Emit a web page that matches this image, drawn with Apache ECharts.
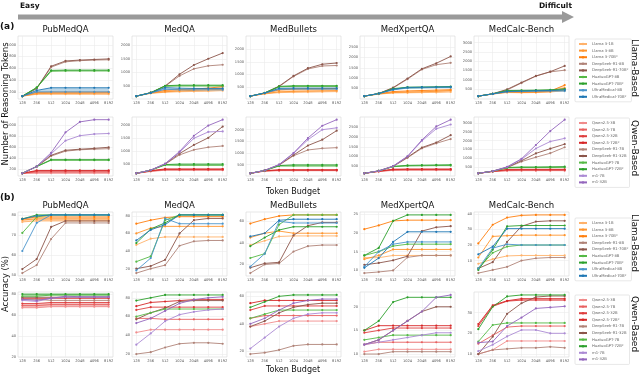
<!DOCTYPE html>
<html>
<head>
<meta charset="utf-8">
<script src="https://cdn.jsdelivr.net/npm/echarts@6/dist/echarts.min.js"></script>
<style>
html, body { margin: 0; padding: 0; background: #fff; }
#main { width: 640px; height: 375px; }
</style>
</head>
<body>
<div id="main"></div>
<script>
// x axis (category positions 0..6)
const budgets = ['128', '256', '512', '1024', '2048', '4096', '8192'];
const datasets = ['PubMedQA', 'MedQA', 'MedBullets', 'MedXpertQA', 'MedCalc-Bench'];

const llamaModels = ['Llama 3-1B', 'Llama 3-8B', 'Llama 3-70B*', 'DeepSeek-R1-8B', 'DeepSeek-R1-70B*',
  'HuatuoGPT-8B', 'HuatuoGPT-70B*', 'UltraMedical-8B', 'UltraMedical-70B*'];
const qwenModels = ['Qwen2.5-3B', 'Qwen2.5-7B', 'Qwen2.5-32B', 'Qwen2.5-72B*', 'DeepSeek-R1-7B',
  'DeepSeek-R1-32B', 'HuatuoGPT-7B', 'HuatuoGPT-72B*', 'm1-7B', 'm1-32B'];
const llamaColors = ['#ffb26b', '#ff952e', '#ff7f0e', '#b08378', '#8c564b', '#55b946', '#2ca02c', '#4b95cc', '#1f77b4'];
const qwenColors = ['#f08c8c', '#e86060', '#de3f3f', '#d62728', '#b08378', '#8c564b', '#55b946', '#2ca02c', '#ab8ad4', '#9467bd'];
// model families that get a shaded band where their lines run close together
const llamaBands = [[0, 1, 2], [5, 6], [7, 8]];
const qwenBands = [[0, 1, 2, 3], [6, 7]];

// ---- (a) number of reasoning tokens, Llama-based ----
const tokLlamaPubMedQA = [
  [128, 160, 160, 160, 160, 160, 160],
  [128, 170, 175, 175, 175, 178, 180],
  [128, 190, 195, 195, 195, 195, 195],
  [128, 255, 620, 710, 730, 740, 745],
  [128, 260, 635, 725, 740, 750, 760],
  [128, 270, 550, 555, 555, 555, 555],
  [128, 275, 565, 570, 570, 570, 570],
  [128, 200, 200, 200, 200, 200, 200],
  [128, 225, 270, 270, 270, 270, 270]];
const tokLlamaMedQA = [
  [128, 230, 270, 290, 300, 310, 330],
  [128, 240, 290, 320, 340, 360, 380],
  [128, 250, 340, 370, 390, 420, 480],
  [128, 250, 490, 870, 1130, 1240, 1280],
  [128, 255, 500, 930, 1270, 1500, 1710],
  [128, 250, 490, 500, 500, 500, 500],
  [128, 255, 510, 530, 530, 530, 530],
  [128, 245, 380, 360, 360, 360, 360],
  [128, 250, 440, 420, 410, 410, 410]];
const tokLlamaMedBullets = [
  [128, 220, 270, 280, 290, 300, 310],
  [128, 230, 300, 320, 330, 340, 350],
  [128, 245, 380, 410, 420, 420, 430],
  [128, 250, 510, 920, 1220, 1340, 1360],
  [128, 255, 530, 940, 1250, 1410, 1460],
  [128, 255, 500, 520, 520, 520, 520],
  [128, 260, 520, 545, 545, 545, 545],
  [128, 250, 400, 410, 410, 410, 410],
  [128, 255, 440, 450, 450, 450, 450]];
const tokLlamaMedXpertQA = [
  [128, 225, 280, 290, 300, 310, 330],
  [128, 235, 300, 320, 340, 360, 400],
  [128, 245, 350, 380, 400, 420, 440],
  [128, 250, 520, 950, 1420, 1650, 1740],
  [128, 255, 540, 980, 1450, 1720, 2050],
  [128, 250, 470, 530, 540, 550, 560],
  [128, 255, 490, 560, 570, 580, 590],
  [128, 250, 430, 520, 530, 540, 540],
  [128, 255, 460, 550, 560, 570, 580]];
const tokLlamaMedCalc = [
  [128, 240, 320, 310, 320, 350, 420],
  [128, 245, 340, 330, 340, 370, 560],
  [128, 250, 360, 350, 360, 400, 720],
  [128, 250, 460, 830, 1200, 1430, 1520],
  [128, 255, 490, 860, 1210, 1440, 1750],
  [128, 250, 410, 420, 430, 440, 470],
  [128, 255, 430, 440, 450, 470, 520],
  [128, 245, 360, 380, 390, 400, 400],
  [128, 250, 380, 400, 420, 430, 460]];

// ---- (a) number of reasoning tokens, Qwen-based ----
const tokQwenPubMedQA = [
  [128, 130, 130, 130, 130, 130, 130],
  [128, 150, 150, 150, 150, 150, 150],
  [128, 170, 170, 170, 170, 170, 170],
  [128, 180, 180, 180, 180, 180, 180],
  [128, 250, 440, 530, 555, 565, 575],
  [128, 252, 455, 545, 565, 580, 600],
  [128, 250, 365, 365, 365, 365, 365],
  [128, 252, 375, 375, 375, 375, 375],
  [128, 250, 480, 720, 810, 840, 850],
  [128, 255, 500, 870, 1060, 1100, 1100]];
const tokQwenMedQA = [
  [128, 200, 250, 250, 250, 250, 250],
  [128, 215, 265, 265, 265, 265, 265],
  [128, 225, 280, 280, 280, 280, 280],
  [128, 230, 300, 300, 300, 300, 300],
  [128, 250, 480, 850, 1050, 1150, 1200],
  [128, 250, 490, 900, 1240, 1520, 1960],
  [128, 250, 450, 440, 440, 440, 440],
  [128, 252, 470, 490, 490, 490, 490],
  [128, 250, 500, 950, 1500, 1750, 1770],
  [128, 255, 505, 980, 1600, 2000, 2230]];
const tokQwenMedBullets = [
  [128, 220, 240, 240, 240, 240, 240],
  [128, 230, 255, 255, 255, 255, 255],
  [128, 235, 265, 265, 265, 265, 265],
  [128, 240, 280, 280, 280, 280, 280],
  [128, 250, 480, 880, 1130, 1200, 1230],
  [128, 250, 490, 910, 1320, 1570, 1960],
  [128, 250, 440, 440, 440, 440, 440],
  [128, 252, 460, 490, 490, 490, 490],
  [128, 250, 500, 980, 1570, 2000, 2080],
  [128, 255, 505, 1000, 1640, 2170, 2430]];
const tokQwenMedXpertQA = [
  [128, 220, 280, 290, 290, 290, 290],
  [128, 230, 300, 310, 310, 310, 310],
  [128, 235, 320, 330, 330, 330, 330],
  [128, 240, 340, 350, 350, 350, 350],
  [128, 250, 480, 930, 1420, 1680, 1900],
  [128, 250, 490, 960, 1460, 1720, 2100],
  [128, 250, 470, 510, 520, 530, 530],
  [128, 252, 490, 540, 550, 560, 570],
  [128, 250, 490, 1000, 1800, 2430, 2650],
  [128, 255, 500, 1010, 1850, 2550, 2900]];
const tokQwenMedCalc = [
  [128, 230, 270, 280, 280, 280, 280],
  [128, 235, 290, 300, 300, 300, 300],
  [128, 240, 320, 330, 330, 330, 330],
  [128, 245, 350, 360, 360, 360, 360],
  [128, 250, 450, 800, 1050, 1280, 1620],
  [128, 250, 470, 850, 1270, 1540, 1800],
  [128, 250, 440, 460, 460, 460, 470],
  [128, 252, 460, 490, 490, 500, 510],
  [128, 250, 480, 930, 1550, 1950, 2130],
  [128, 255, 500, 960, 1750, 2550, 3200]];

// ---- (b) accuracy (%), Llama-based ----
const accLlamaPubMedQA = [
  [76.5, 77, 77, 77, 77, 77, 77],
  [77.5, 78, 78, 78, 78, 78, 78],
  [78, 79, 79, 79, 79, 79, 79],
  [51, 55, 68, 76, 76, 76, 76],
  [53, 58, 74, 77, 77, 77, 77],
  [71, 79, 80, 80, 80, 80, 80],
  [78, 80, 80, 80, 80, 80, 80],
  [62, 76, 80, 80, 80, 80, 80],
  [78, 79.5, 80, 80, 80, 80, 80]];
const accLlamaMedQA = [
  [47, 54, 56, 56, 56, 56, 56],
  [60, 66, 68, 68, 68, 68, 68],
  [71, 75, 78, 79, 79, 79, 79],
  [15, 20, 24, 46, 51, 52, 52],
  [20, 23, 30, 60, 75, 77, 77],
  [28, 34, 75, 81, 81, 81, 81],
  [49, 65, 72, 81, 81, 81, 81],
  [18, 32, 77, 71, 71, 71, 71],
  [52, 64, 70, 81, 81, 81, 81]];
const accLlamaMedBullets = [
  [38, 42, 46, 46.5, 46.5, 46.5, 46.5],
  [45, 49, 51, 49, 49, 49, 49],
  [58, 62, 65, 66, 66, 66, 66],
  [12, 20, 21, 32, 37, 38, 38],
  [17, 21, 22, 47, 56, 59, 59],
  [26, 30, 57, 66, 66, 66, 66],
  [37, 45, 52, 55, 55, 55, 55],
  [18, 30, 60, 58.5, 58.5, 58.5, 58.5],
  [46, 49, 61, 62, 62, 62, 62]];
const accLlamaMedXpertQA = [
  [13.4, 13.4, 14, 14, 14, 14, 14],
  [13, 14, 15.6, 15.6, 15.6, 15.6, 15.6],
  [21, 22, 23.2, 23.4, 23.4, 23.4, 23.4],
  [9.3, 9.6, 10, 13.5, 14, 14, 14],
  [11.5, 12, 12.7, 13.8, 20.5, 21.5, 21.8],
  [14, 15, 16.5, 17, 17, 17, 17],
  [14, 16, 23.2, 24.8, 24.8, 24.8, 24.8],
  [11, 15, 17, 17.6, 17.6, 17.6, 17.6],
  [10.7, 13.3, 17.6, 20.3, 20.3, 20.3, 20.3]];
const accLlamaMedCalc = [
  [8, 11, 13, 13.3, 13.3, 13.3, 13.3],
  [12, 25.5, 26, 26.3, 26.3, 26.3, 26.3],
  [21, 33, 37.6, 39, 39.3, 39.3, 39.3],
  [2, 4, 6, 10, 11.5, 12, 12],
  [5, 9, 22, 32, 35, 35.5, 35.5],
  [5, 15, 19, 20, 20, 20, 20],
  [4, 17, 32, 32.5, 32.5, 32.5, 32.5],
  [5, 18, 20.5, 20, 20, 20, 20],
  [14, 19, 30.5, 30.5, 30.5, 30.5, 30.5]];

// ---- (b) accuracy (%), Qwen-based ----
const accQwenPubMedQA = [
  [67, 67, 68, 68, 68, 68, 68],
  [69, 69, 70, 70, 70, 70, 70],
  [71, 71, 72, 72, 72, 72, 72],
  [76, 76, 76, 76, 76, 76, 76],
  [75, 75, 74, 74, 74, 74, 74],
  [77, 77, 77, 77, 77, 77, 77],
  [78, 78, 79, 79, 79, 79, 79],
  [80, 80, 80, 80, 80, 80, 80],
  [74, 73, 76, 77, 77, 77, 77],
  [75, 74, 76, 78, 77.5, 77.5, 77.5]];
const accQwenMedQA = [
  [43, 46, 46, 46, 46, 46, 46],
  [58, 58, 57, 57, 57, 57, 57],
  [67, 70, 70, 70, 70, 70, 70],
  [71, 75, 76, 77, 78, 78, 78],
  [20, 22, 27, 31, 32, 32, 31],
  [57, 64, 69, 76, 77, 77, 77],
  [60, 64, 68, 68, 68, 68, 68],
  [77, 80, 83, 83, 83, 83, 83],
  [30, 42, 55, 62, 65, 67, 68],
  [53, 58, 66, 74, 78, 80, 81]];
const accQwenMedBullets = [
  [38, 40, 42, 42, 42, 42, 42],
  [44, 46, 46, 46, 46, 46, 46],
  [50, 53, 53, 53, 53, 53, 53],
  [55, 57, 57, 57, 57, 57, 57],
  [18, 19, 21, 24, 25, 25, 25],
  [38, 42, 48, 52, 54, 55, 55],
  [44, 47, 50, 50, 50, 50, 50],
  [52, 56, 60, 61, 61, 61, 61],
  [22, 30, 38, 44, 47, 48, 48],
  [40, 44, 50, 55, 57, 58, 58]];
const accQwenMedXpertQA = [
  [10.5, 11, 11, 11, 11, 11, 11],
  [12, 12.5, 12.5, 12.5, 12.5, 12.5, 12.5],
  [14.5, 15, 15.5, 15.5, 15.5, 15.5, 15.5],
  [15, 16, 16, 16, 16, 16, 16],
  [10, 10, 10.5, 10.5, 10.5, 10.5, 10.5],
  [12, 13, 15, 17, 19, 20, 20],
  [13, 13.5, 14, 14, 14, 14, 14],
  [15, 17, 21, 22, 22, 22, 22],
  [12, 12.5, 13, 13.5, 14, 14.5, 14.5],
  [12, 13, 15, 17, 19, 22, 22.5]];
const accQwenMedCalc = [
  [10, 12, 16.3, 16.3, 16.3, 16.3, 16.3],
  [15, 19, 23, 23.5, 23.5, 23.5, 23.5],
  [23.5, 33, 35.5, 36, 36, 36, 36],
  [24.5, 33.5, 35.7, 36.7, 36.7, 36.7, 36.7],
  [10, 12, 12.5, 13, 13, 13.5, 13],
  [10, 18.4, 29.4, 34.5, 37.5, 38, 38],
  [16, 24, 25, 25, 25, 25, 25],
  [22, 32.8, 37.8, 38.5, 38.5, 38.5, 38.5],
  [11.4, 14.5, 18.5, 21.6, 21.6, 20, 20],
  [15.5, 16, 23.5, 27.6, 32, 32.5, 33]];

// y tick labels per column
const tokTicks = [[200, 400, 600, 800, 1000], [500, 1000, 1500, 2000], [500, 1000, 1500, 2000],
  [500, 1000, 1500, 2000, 2500], [500, 1000, 1500, 2000, 2500, 3000]];
const accLlamaTicks = [[50, 60, 70, 80], [20, 40, 60, 80], [20, 40, 60], [10, 15, 20, 25], [10, 20, 30, 40]];
const accQwenTicks = [[20, 40, 60, 80], [20, 40, 60, 80], [20, 40, 60], [10, 15, 20, 25], [10, 20, 30, 40]];

const tokLlama = [tokLlamaPubMedQA, tokLlamaMedQA, tokLlamaMedBullets, tokLlamaMedXpertQA, tokLlamaMedCalc];
const tokQwen = [tokQwenPubMedQA, tokQwenMedQA, tokQwenMedBullets, tokQwenMedXpertQA, tokQwenMedCalc];
const accLlama = [accLlamaPubMedQA, accLlamaMedQA, accLlamaMedBullets, accLlamaMedXpertQA, accLlamaMedCalc];
const accQwen = [accQwenPubMedQA, accQwenMedQA, accQwenMedBullets, accQwenMedXpertQA, accQwenMedCalc];

const FONT = 'DejaVu Sans';
const gridLefts = [18, 132, 246, 360, 474];
const gridW = 95;
const rowTops = [36, 117, 212, 292];
const rowHeights = [63, 59, 64, 65];
const idx = budgets.map((b, i) => i);

// matplotlib-like autoscale: 5% margin around the data
function padRange(lists) {
  let lo = Infinity, hi = -Infinity;
  lists.forEach(l => l.forEach(s => s.forEach(v => { lo = Math.min(lo, v); hi = Math.max(hi, v); })));
  const m = (hi - lo) * 0.05;
  return [lo - m, hi + m];
}

// split a family into groups of lines that run close together
function closeGroups(data, fam, span) {
  const thr = span * 0.07;
  const mean = i => data[i].reduce((a, b) => a + b, 0) / data[i].length;
  const sorted = fam.slice().sort((a, b) => mean(a) - mean(b));
  const groups = [];
  let cur = [sorted[0]];
  for (let n = 1; n < sorted.length; n++) {
    const a = sorted[n - 1], b = sorted[n];
    const gap = Math.max(...idx.map(j => Math.abs(data[a][j] - data[b][j])));
    if (gap < thr) cur.push(b);
    else { if (cur.length > 1) groups.push(cur); cur = [b]; }
  }
  if (cur.length > 1) groups.push(cur);
  return groups;
}

const panels = [];
for (let c = 0; c < 5; c++) {
  const tokRange = padRange([tokLlama[c], tokQwen[c]]);   // shared y per column in (a)
  panels.push({ row: 0, col: c, data: tokLlama[c], models: llamaModels, colors: llamaColors, bands: llamaBands, ticks: tokTicks[c], range: tokRange });
  panels.push({ row: 1, col: c, data: tokQwen[c], models: qwenModels, colors: qwenColors, bands: qwenBands, ticks: tokTicks[c], range: tokRange });
  panels.push({ row: 2, col: c, data: accLlama[c], models: llamaModels, colors: llamaColors, bands: llamaBands, ticks: accLlamaTicks[c], range: padRange([accLlama[c]]) });
  let qr = padRange([accQwen[c]]);
  if (c === 0) qr = [20, 82];
  panels.push({ row: 3, col: c, data: accQwen[c], models: qwenModels, colors: qwenColors, bands: qwenBands, ticks: accQwenTicks[c], range: qr });
}

const grids = [], xAxes = [], yAxes = [], series = [];
const labelStyle = { fontSize: 3.6, color: '#555', fontFamily: FONT, margin: 2 };
const splitStyle = { show: true, lineStyle: { color: '#ebebeb', width: 0.6 } };

panels.forEach((p, k) => {
  grids.push({ left: gridLefts[p.col], top: rowTops[p.row], width: gridW, height: rowHeights[p.row],
    show: true, borderColor: '#d6d6d6', borderWidth: 0.6, backgroundColor: '#fff' });
  xAxes.push({ gridIndex: k, type: 'value', min: -0.3, max: 6.3,
    axisLine: { show: false }, axisTick: { show: false, customValues: idx },
    axisLabel: Object.assign({ customValues: idx, formatter: v => budgets[Math.round(v)] }, labelStyle),
    splitLine: splitStyle });
  yAxes.push({ gridIndex: k, type: 'value', min: p.range[0], max: p.range[1],
    axisLine: { show: false }, axisTick: { show: false, customValues: p.ticks },
    axisLabel: Object.assign({ customValues: p.ticks, formatter: v => String(v) }, labelStyle),
    splitLine: splitStyle });

  // shaded band around lines of one family that run close together
  const span = p.range[1] - p.range[0];
  p.bands.forEach(f => closeGroups(p.data, f, span).forEach(fam => {
    const lo = idx.map(j => Math.min(...fam.map(i => p.data[i][j])));
    const hi = idx.map(j => Math.max(...fam.map(i => p.data[i][j])));
    const col = p.colors[f[f.length - 1]];
    series.push({
      type: 'custom', xAxisIndex: k, yAxisIndex: k, silent: true, z: 1,
      data: idx.map(j => [j, lo[j], hi[j]]),
      encode: { x: 0, y: [1, 2] },
      renderItem: (params, api) => {
        if (params.dataIndex !== 0) return null;
        const pts = idx.map(j => api.coord([j, lo[j]]))
          .concat(idx.slice().reverse().map(j => api.coord([j, hi[j]])));
        return { type: 'polygon', shape: { points: pts }, style: { fill: col, opacity: 0.3 } };
      }
    });
  }));

  p.data.forEach((vals, i) => {
    series.push({
      type: 'line', name: p.models[i], xAxisIndex: k, yAxisIndex: k, z: 3,
      data: vals.map((v, j) => [j, v]),
      symbol: 'circle', symbolSize: 2.2, showSymbol: true,
      itemStyle: { color: p.colors[i] },
      lineStyle: { width: 0.9, color: p.colors[i] }
    });
  });
});

const legendTops = [39, 118, 218, 295];
const legends = legendTops.map((t, r) => ({
  orient: 'vertical', left: 575, top: t,
  data: (r % 2 === 0) ? llamaModels : qwenModels,
  itemWidth: 8, itemHeight: 3, itemGap: 1.6,
  padding: [2.5, 3, 2.5, 3],
  borderColor: '#d6d6d6', borderWidth: 0.6, borderRadius: 1,
  textStyle: { fontSize: 3.8, color: '#666', fontFamily: FONT, lineHeight: 5 },
  selectedMode: false
}));

// texts and the difficulty arrow
const graphics = [];
function txt(x, y, text, font, align, rot) {
  graphics.push({ type: 'text', x: x, y: y, rotation: rot || 0, silent: true,
    style: { text: text, font: font, fill: '#111', align: align || 'center', verticalAlign: 'middle' } });
}
graphics.push({ type: 'polygon', silent: true,
  shape: { points: [[18, 14.5], [562, 14.5], [562, 11], [574, 17], [562, 23], [562, 19.5], [18, 19.5]] },
  style: { fill: '#9a9a9a' } });
txt(20, 6, 'Easy', 'bold 7.5px ' + FONT, 'left');
txt(572, 6, 'Difficult', 'bold 7.5px ' + FONT, 'right');
txt(0, 27, '(a)', 'bold 9px ' + FONT, 'left');
txt(0, 198, '(b)', 'bold 9px ' + FONT, 'left');
datasets.forEach((d, c) => {
  const cx = gridLefts[c] + gridW / 2;
  txt(cx, 30, d, '8.5px ' + FONT);
  txt(cx, 206, d, '8.5px ' + FONT);
});
txt(293, 192, 'Token Budget', '8px ' + FONT);
txt(293, 370, 'Token Budget', '8px ' + FONT);
txt(6, 104, 'Number of Reasoning Tokens', '8.5px ' + FONT, 'center', Math.PI / 2);
txt(6, 284, 'Accuracy (%)', '8.5px ' + FONT, 'center', Math.PI / 2);
txt(634, 68, 'Llama-Based', '9px ' + FONT, 'center', -Math.PI / 2);
txt(634, 148, 'Qwen-Based', '9px ' + FONT, 'center', -Math.PI / 2);
txt(634, 243, 'Llama-Based', '9px ' + FONT, 'center', -Math.PI / 2);
txt(634, 324, 'Qwen-Based', '9px ' + FONT, 'center', -Math.PI / 2);

const chart = echarts.init(document.getElementById('main'));
chart.setOption({
  animation: false,
  backgroundColor: '#fff',
  grid: grids,
  xAxis: xAxes,
  yAxis: yAxes,
  legend: legends,
  series: series,
  graphic: graphics
});
</script>
</body>
</html>
